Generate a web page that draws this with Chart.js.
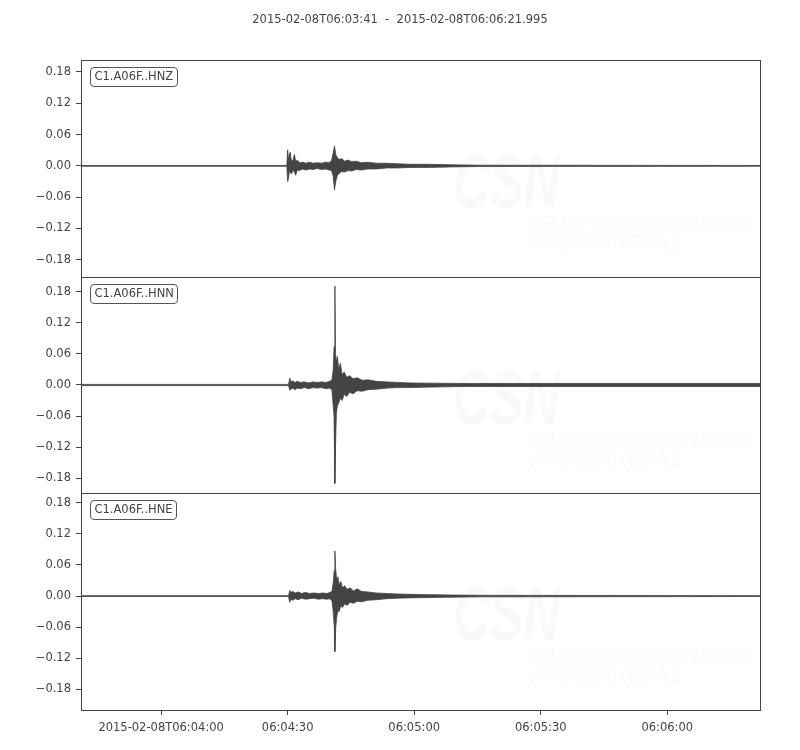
<!DOCTYPE html>
<html>
<head>
<meta charset="utf-8">
<script src="https://cdn.jsdelivr.net/npm/chart.js@4.4.0/dist/chart.umd.min.js"></script>
<style>
  body { margin: 0; background: #fff; }
  #wrap { width: 800px; height: 750px; position: relative; }
</style>
</head>
<body>
<div id="wrap"><canvas id="seis"></canvas></div>
<script>
const titleText = '2015-02-08T06:03:41  -  2015-02-08T06:06:21.995';
const traceNames = ['C1.A06F..HNZ', 'C1.A06F..HNN', 'C1.A06F..HNE'];

// x is seconds after 2015-02-08T06:03:41
const xMax = 160.995;
const xTickSeconds = [19, 49, 79, 109, 139];
const xTickLabels = ['2015-02-08T06:04:00', '06:04:30', '06:05:00', '06:05:30', '06:06:00'];
const yTickValues = [-0.18, -0.12, -0.06, 0, 0.06, 0.12, 0.18];
const yLimits = [[-0.2125, 0.203], [-0.209, 0.209], [-0.2195, 0.198]];

// envelopes (time in s, upper / lower peak)
const hnzTime  = [0, 48.8, 49.0, 49.2, 49.4, 49.6, 49.9, 50.3, 50.6, 50.9, 51.3, 51.8, 52.5, 53.3, 54.2, 55.0, 56.0, 57.0, 58.0, 58.8, 59.4, 59.8, 60.1, 60.4, 60.8, 61.3, 61.8, 62.5, 63.3, 64.2, 65.2, 66.5, 68, 70, 72.5, 75, 78, 82, 88, 95, 161];
const hnzUpper = [0.0008, 0.0008, 0.031, 0.010, 0.022, 0.026, 0.008, 0.012, 0.022, 0.008, 0.011, 0.006, 0.007, 0.005, 0.007, 0.005, 0.006, 0.005, 0.007, 0.006, 0.010, 0.025, 0.038, 0.022, 0.015, 0.012, 0.014, 0.009, 0.011, 0.008, 0.009, 0.006, 0.007, 0.005, 0.005, 0.004, 0.003, 0.003, 0.002, 0.0012, 0.0008];
const hnzLower = [-0.0008, -0.0008, -0.030, -0.024, -0.010, -0.013, -0.015, -0.008, -0.012, -0.018, -0.008, -0.009, -0.006, -0.008, -0.006, -0.007, -0.005, -0.007, -0.006, -0.008, -0.009, -0.020, -0.046, -0.030, -0.018, -0.014, -0.011, -0.012, -0.009, -0.010, -0.007, -0.008, -0.006, -0.006, -0.004, -0.004, -0.003, -0.003, -0.002, -0.0012, -0.0008];

const hnnTime  = [0, 49.2, 49.5, 49.8, 50.2, 50.7, 51.3, 52.0, 53.0, 54.0, 55.0, 56.0, 57.0, 58.0, 59.0, 59.5, 59.8, 60.0, 60.2, 60.35, 60.55, 60.8, 61.1, 61.5, 61.9, 62.4, 63.0, 63.7, 64.5, 65.5, 66.7, 68, 70, 72.5, 75, 78, 83, 90, 161];
const hnnUpper = [0.0012, 0.0012, 0.013, 0.006, 0.008, 0.005, 0.007, 0.005, 0.006, 0.004, 0.006, 0.005, 0.006, 0.005, 0.007, 0.010, 0.030, 0.074, 0.191, 0.060, 0.045, 0.055, 0.030, 0.042, 0.020, 0.025, 0.015, 0.018, 0.012, 0.014, 0.009, 0.010, 0.007, 0.006, 0.005, 0.004, 0.0035, 0.003, 0.003];
const hnnLower = [-0.0012, -0.0012, -0.010, -0.008, -0.006, -0.009, -0.006, -0.007, -0.005, -0.007, -0.005, -0.006, -0.005, -0.007, -0.006, -0.010, -0.040, -0.060, -0.190, -0.119, -0.054, -0.040, -0.035, -0.025, -0.030, -0.018, -0.022, -0.014, -0.017, -0.011, -0.012, -0.009, -0.008, -0.006, -0.005, -0.005, -0.004, -0.003, -0.003];

const hneTime  = [0, 49.2, 49.5, 49.8, 50.2, 50.8, 51.5, 52.3, 53.2, 54.2, 55.2, 56.3, 57.3, 58.3, 59.0, 59.5, 59.8, 60.05, 60.2, 60.4, 60.65, 60.9, 61.2, 61.6, 62.0, 62.5, 63.1, 63.8, 64.6, 65.5, 66.5, 68, 70, 72.5, 75, 80, 88, 95, 161];
const hneUpper = [0.0008, 0.0008, 0.011, 0.007, 0.009, 0.006, 0.008, 0.005, 0.007, 0.005, 0.006, 0.005, 0.006, 0.005, 0.007, 0.009, 0.025, 0.050, 0.087, 0.050, 0.030, 0.037, 0.022, 0.028, 0.016, 0.020, 0.013, 0.016, 0.010, 0.014, 0.009, 0.008, 0.006, 0.005, 0.004, 0.003, 0.002, 0.0015, 0.0008];
const hneLower = [-0.0008, -0.0008, -0.012, -0.006, -0.008, -0.005, -0.007, -0.004, -0.006, -0.005, -0.004, -0.006, -0.005, -0.006, -0.005, -0.009, -0.030, -0.059, -0.107, -0.060, -0.040, -0.028, -0.030, -0.019, -0.022, -0.015, -0.018, -0.012, -0.014, -0.010, -0.011, -0.008, -0.007, -0.005, -0.004, -0.003, -0.002, -0.0015, -0.0008];

const ink = '#444444';
const fontFamily = '"DejaVu Sans", sans-serif';
const fontSize = 11.5;

const traces = [
  { time: hnzTime, upper: hnzUpper, lower: hnzLower },
  { time: hnnTime, upper: hnnUpper, lower: hnnLower },
  { time: hneTime, upper: hneUpper, lower: hneLower }
];

const datasets = [];
traces.forEach((tr, i) => {
  const axis = 'y' + i;
  datasets.push({
    data: tr.time.map((t, k) => ({ x: t, y: tr.upper[k] })),
    yAxisID: axis,
    borderColor: ink,
    backgroundColor: ink,
    borderWidth: 0.8,
    pointRadius: 0,
    tension: 0,
    fill: '+1'
  });
  datasets.push({
    data: tr.time.map((t, k) => ({ x: t, y: tr.lower[k] })),
    yAxisID: axis,
    borderColor: ink,
    borderWidth: 0.8,
    pointRadius: 0,
    tension: 0,
    fill: false
  });
});

function yScale(i) {
  return {
    type: 'linear',
    position: 'left',
    stack: 'traces',
    stackWeight: 1,
    offset: false,
    min: yLimits[i][0],
    max: yLimits[i][1],
    afterBuildTicks: s => { s.ticks = yTickValues.map(v => ({ value: v })); },
    afterFit: s => { s.width = 81; },
    grid: { drawOnChartArea: false, tickLength: 5, color: ink },
    border: { color: ink },
    ticks: {
      color: ink,
      autoSkip: false,
      padding: 5,
      font: { family: fontFamily, size: fontSize },
      callback: v => v.toFixed(2).replace('-', '\u2212')
    }
  };
}

const decor = {
  id: 'decor',
  beforeDatasetsDraw(chart) {
    const ctx = chart.ctx;
    ctx.save();
    ctx.fillStyle = 'rgba(0,0,0,0.025)';
    ctx.textAlign = 'left';
    ctx.textBaseline = 'alphabetic';
    ['y0', 'y1', 'y2'].forEach(id => {
      const top = chart.scales[id].top;
      ctx.font = 'italic bold 76px "Liberation Sans"';
      ctx.fillText('CSN', 453, top + 147, 107);
      ctx.font = 'italic 21px "Liberation Sans Narrow", "Liberation Sans"';
      ctx.fillText('CENTRO SISMOLÓGICO NACIONAL', 532, top + 170, 223);
      ctx.fillText('UNIVERSIDAD DE CHILE', 528, top + 189, 152);
    });
    ctx.restore();
  },
  afterDraw(chart) {
    const ctx = chart.ctx;
    const area = chart.chartArea;
    ctx.save();
    ctx.strokeStyle = ink;
    ctx.lineWidth = 1;
    ['y0', 'y1', 'y2'].forEach((id, i) => {
      const s = chart.scales[id];
      const t = Math.round(s.top) + 0.5;
      const b = Math.round(s.bottom) + 0.5;
      ctx.strokeStyle = ink;
      ctx.strokeRect(Math.round(area.left) + 0.5, t, Math.round(area.right) - Math.round(area.left), b - t);

      // trace label box
      ctx.font = fontSize + 'px ' + fontFamily;
      const w = Math.round(ctx.measureText(traceNames[i]).width + 8);
      const bx = Math.round(area.left) + 9.5;
      const by = Math.round(s.top) + 7.5;
      ctx.fillStyle = '#fff';
      ctx.strokeStyle = '#555';
      ctx.beginPath();
      if (ctx.roundRect) ctx.roundRect(bx, by, w, 19, 3.5);
      else ctx.rect(bx, by, w, 19);
      ctx.fill();
      ctx.stroke();
      ctx.fillStyle = ink;
      ctx.textAlign = 'left';
      ctx.textBaseline = 'middle';
      ctx.fillText(traceNames[i], bx + 4, by + 10);
    });
    ctx.font = fontSize + 'px ' + fontFamily;
    ctx.textAlign = 'center';
    ctx.textBaseline = 'middle';
    ctx.fillStyle = ink;
    ctx.fillText(titleText, 400, 20);
    ctx.restore();
  }
};

new Chart(document.getElementById('seis'), {
  type: 'line',
  data: { datasets },
  options: {
    responsive: true,
    maintainAspectRatio: false,
    animation: false,
    layout: { padding: { top: 60, right: 40, bottom: 0, left: 0 } },
    plugins: { legend: { display: false }, tooltip: { enabled: false } },
    scales: {
      x: {
        type: 'linear',
        min: 0,
        max: xMax,
        afterBuildTicks: s => { s.ticks = xTickSeconds.map(v => ({ value: v })); },
        afterFit: s => { s.height = 40; },
        grid: { drawOnChartArea: false, tickLength: 5, color: ink },
        border: { color: ink },
        ticks: {
          color: ink,
          autoSkip: false,
          maxRotation: 0,
          padding: 6,
          font: { family: fontFamily, size: fontSize },
          callback: (v, i) => xTickLabels[i]
        }
      },
      // stacked axes are laid out bottom-up, so the last one ends on top
      y2: yScale(2),
      y1: yScale(1),
      y0: yScale(0)
    }
  },
  plugins: [decor]
});
</script>
</body>
</html>
